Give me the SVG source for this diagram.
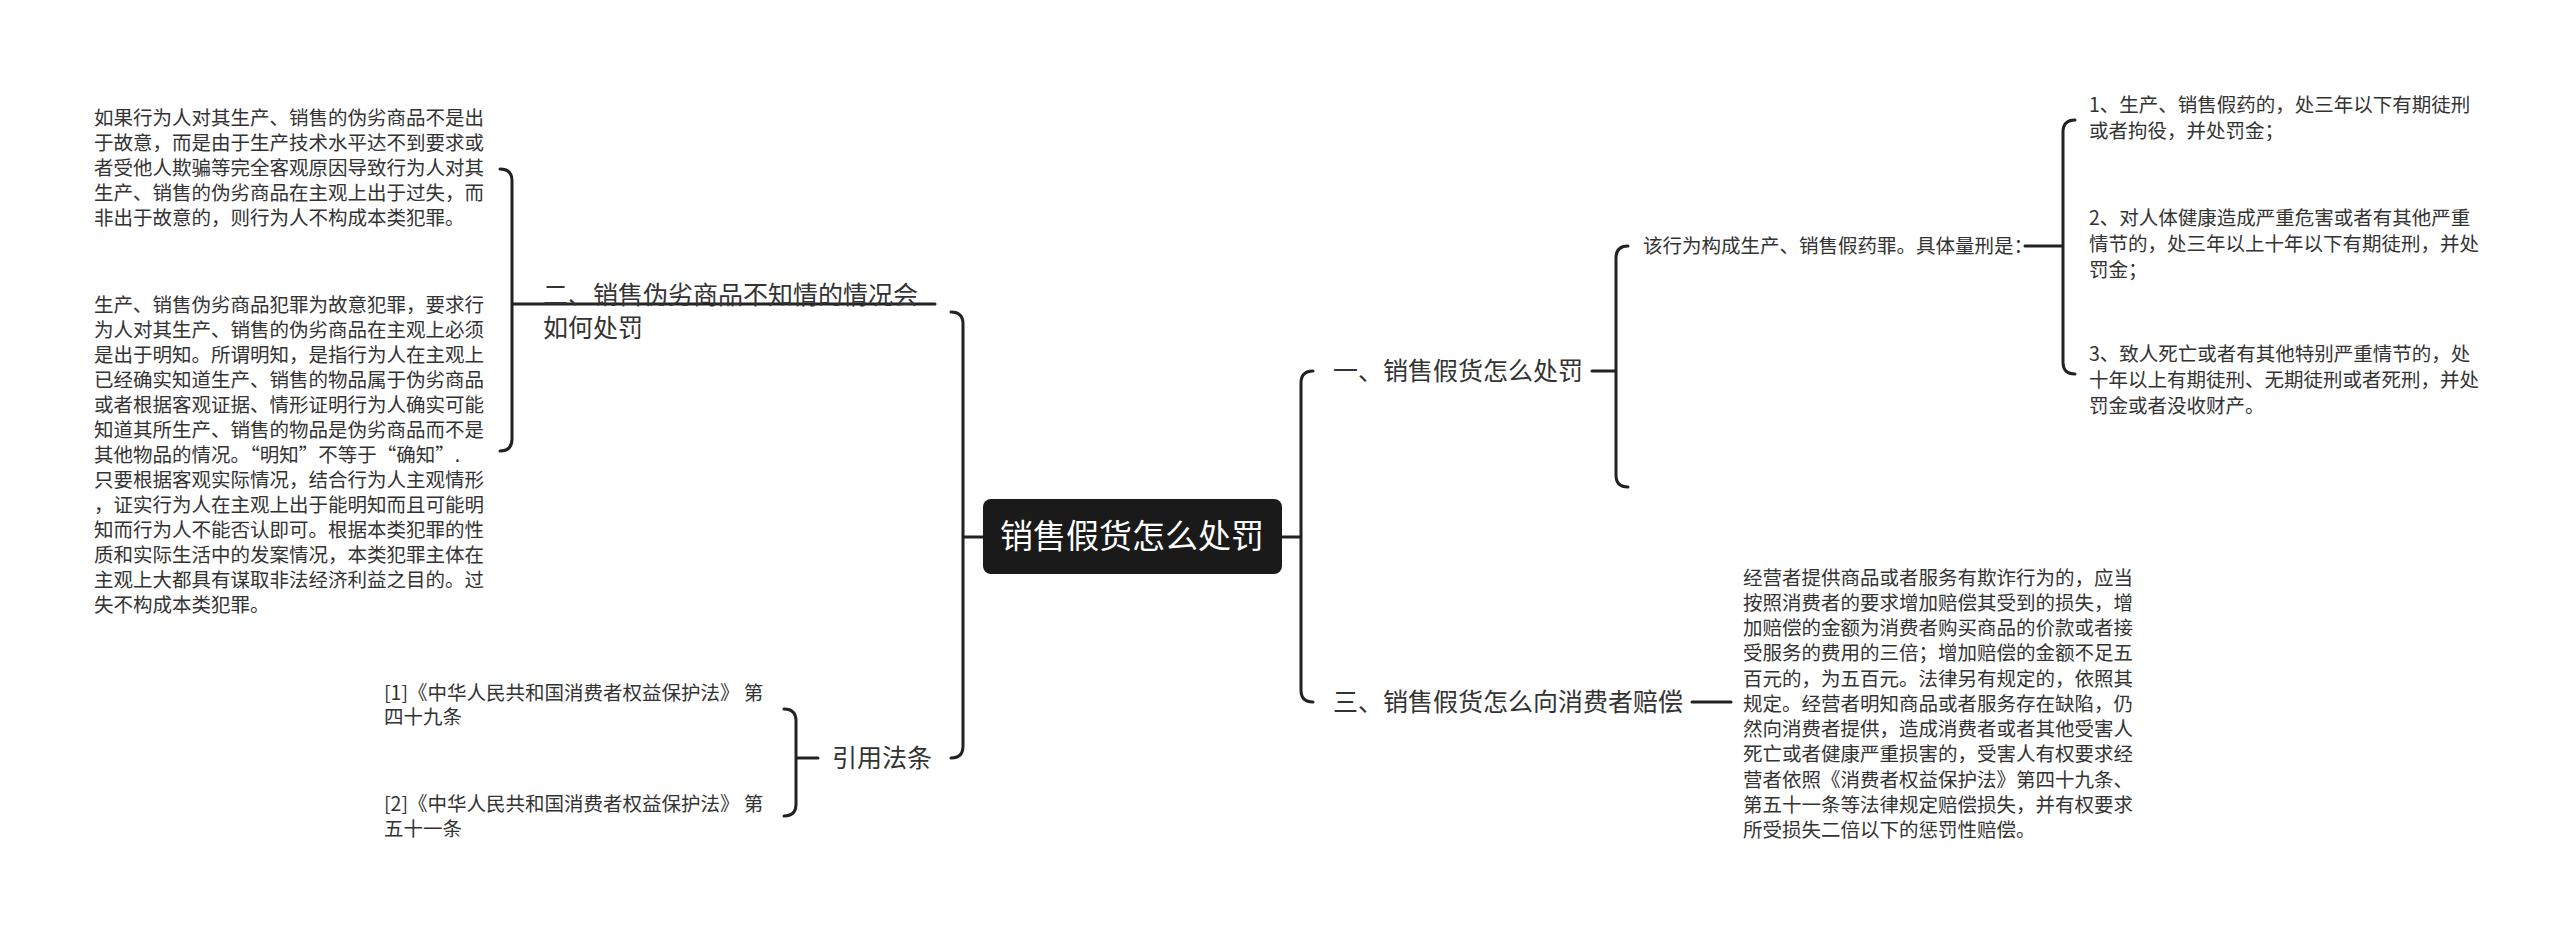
<svg xmlns="http://www.w3.org/2000/svg" width="2560" height="931" viewBox="0 0 2560 931">
<style>
text{font-family:"Noto Sans CJK SC","Noto Sans",sans-serif;fill:#333}
.s{font-size:19.5px}
.m{font-size:25px}
.r{font-size:33px;fill:#fff}
.c{fill:none;stroke:#222;stroke-width:3;stroke-linecap:round}
</style>
<rect width="2560" height="931" fill="#fff"/>
<g id="connectors">
<path class="c" d="M983 537 H963 M951 312 Q963 312 963 324 V746 Q963 758 951 758"/>
<path class="c" d="M935 304 H512 M500 169 Q512 169 512 181 V439 Q512 451 500 451" transform="translate(0,0)"/>
<path class="c" d="M818 758 H796 M784 709 Q796 709 796 721 V804 Q796 816 784 816"/>
<path class="c" d="M1282 537 H1301 M1313 371 Q1301 371 1301 383 V690 Q1301 702 1313 702"/>
<path class="c" d="M1592 371 H1616 M1628 246 Q1616 246 1616 258 V475 Q1616 487 1628 487"/>
<path class="c" d="M2025 246 H2063 M2075 120 Q2063 120 2063 132 V362 Q2063 374 2075 374"/>
<path class="c" d="M1692 702 H1731"/>
</g>
<g id="root">
<rect x="983" y="499" width="299" height="75" rx="8" fill="#1a1a1a"/>
<text class="r" x="1132" y="548" text-anchor="middle">销售假货怎么处罚</text>
</g>
<g id="n2">
<text class="m" x="543" y="304">二、销售伪劣商品不知情的情况会</text>
<text class="m" x="543" y="337">如何处罚</text>
</g>
<g id="n2a" class="s">
<text x="94" y="125">如果行为人对其生产、销售的伪劣商品不是出</text>
<text x="94" y="150">于故意，而是由于生产技术水平达不到要求或</text>
<text x="94" y="175">者受他人欺骗等完全客观原因导致行为人对其</text>
<text x="94" y="200">生产、销售的伪劣商品在主观上出于过失，而</text>
<text x="94" y="225">非出于故意的，则行为人不构成本类犯罪。</text>
</g>
<g id="n2b" class="s">
<text x="94" y="312">生产、销售伪劣商品犯罪为故意犯罪，要求行</text>
<text x="94" y="337">为人对其生产、销售的伪劣商品在主观上必须</text>
<text x="94" y="362">是出于明知。所谓明知，是指行为人在主观上</text>
<text x="94" y="387">已经确实知道生产、销售的物品属于伪劣商品</text>
<text x="94" y="412">或者根据客观证据、情形证明行为人确实可能</text>
<text x="94" y="437">知道其所生产、销售的物品是伪劣商品而不是</text>
<text x="94" y="462">其他物品的情况。“明知”不等于“确知”.</text>
<text x="94" y="487">只要根据客观实际情况，结合行为人主观情形</text>
<text x="94" y="512">，证实行为人在主观上出于能明知而且可能明</text>
<text x="94" y="537">知而行为人不能否认即可。根据本类犯罪的性</text>
<text x="94" y="562">质和实际生活中的发案情况，本类犯罪主体在</text>
<text x="94" y="587">主观上大都具有谋取非法经济利益之目的。过</text>
<text x="94" y="612">失不构成本类犯罪。</text>
</g>
<g id="cite">
<text class="m" x="832" y="767">引用法条</text>
</g>
<g id="cite1" class="s">
<text x="384" y="700">[1]《中华人民共和国消费者权益保护法》 第</text>
<text x="384" y="724">四十九条</text>
</g>
<g id="cite2" class="s">
<text x="384" y="811">[2]《中华人民共和国消费者权益保护法》 第</text>
<text x="384" y="836">五十一条</text>
</g>
<g id="n1">
<text class="m" x="1333" y="380">一、销售假货怎么处罚</text>
</g>
<g id="n1a">
<text class="s" x="1643" y="253">该行为构成生产、销售假药罪。具体量刑是：</text>
</g>
<g id="i1" class="s">
<text x="2089" y="112">1、生产、销售假药的，处三年以下有期徒刑</text>
<text x="2089" y="138">或者拘役，并处罚金；</text>
</g>
<g id="i2" class="s">
<text x="2089" y="225">2、对人体健康造成严重危害或者有其他严重</text>
<text x="2089" y="251">情节的，处三年以上十年以下有期徒刑，并处</text>
<text x="2089" y="277">罚金；</text>
</g>
<g id="i3" class="s">
<text x="2089" y="361">3、致人死亡或者有其他特别严重情节的，处</text>
<text x="2089" y="387">十年以上有期徒刑、无期徒刑或者死刑，并处</text>
<text x="2089" y="413">罚金或者没收财产。</text>
</g>
<g id="n3">
<text class="m" x="1333" y="711">三、销售假货怎么向消费者赔偿</text>
</g>
<g id="n3a" class="s">
<text x="1743" y="585">经营者提供商品或者服务有欺诈行为的，应当</text>
<text x="1743" y="610">按照消费者的要求增加赔偿其受到的损失，增</text>
<text x="1743" y="635">加赔偿的金额为消费者购买商品的价款或者接</text>
<text x="1743" y="660">受服务的费用的三倍；增加赔偿的金额不足五</text>
<text x="1743" y="686">百元的，为五百元。法律另有规定的，依照其</text>
<text x="1743" y="711">规定。经营者明知商品或者服务存在缺陷，仍</text>
<text x="1743" y="736">然向消费者提供，造成消费者或者其他受害人</text>
<text x="1743" y="761">死亡或者健康严重损害的，受害人有权要求经</text>
<text x="1743" y="787">营者依照《消费者权益保护法》第四十九条、</text>
<text x="1743" y="812">第五十一条等法律规定赔偿损失，并有权要求</text>
<text x="1743" y="837">所受损失二倍以下的惩罚性赔偿。</text>
</g>
</svg>
